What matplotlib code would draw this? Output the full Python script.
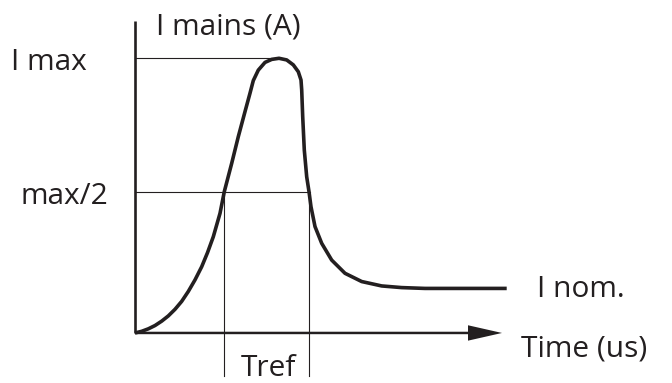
import matplotlib
matplotlib.use("Agg")
import matplotlib.pyplot as plt

# inrush current curve (time in arbitrary units, current relative to I max)
time_us = [0.0, 0.067, 0.133, 0.2, 0.267, 0.333, 0.4, 0.467, 0.533, 0.6,
           0.667, 0.725, 0.783, 0.85, 0.893, 0.967, 1.033, 1.1, 1.15, 1.183,
           1.233, 1.3, 1.367, 1.44, 1.517, 1.583, 1.633, 1.66, 1.667, 1.677,
           1.693, 1.717, 1.74, 1.76, 1.8, 1.867, 1.967, 2.1, 2.267, 2.467,
           2.667, 2.9, 3.717]
i_mains = [0.0, 0.006, 0.015, 0.027, 0.043, 0.062, 0.086, 0.115, 0.151, 0.193,
           0.241, 0.292, 0.350, 0.435, 0.514, 0.617, 0.714, 0.805, 0.872, 0.918,
           0.956, 0.984, 0.995, 0.999, 0.993, 0.975, 0.950, 0.920, 0.884, 0.787,
           0.665, 0.568, 0.514, 0.459, 0.387, 0.326, 0.265, 0.217, 0.187, 0.171,
           0.165, 0.162, 0.162]

i_max = 1.0
i_half = 0.514
t_half_rise = 0.886
t_half_fall = 1.743
t_peak = 1.44

ink = '#231f20'
font = 'Open Sans'

fig = plt.figure(figsize=(6.72, 3.83), dpi=100)
ax = fig.add_axes([0, 0, 1, 1])
ax.set_xlim(-1.35, 5.37)
ax.set_ylim(-0.182, 1.211)
ax.axis('off')

# axes of the sketch
ax.plot([0, 0], [0, 1.135], color=ink, lw=1.9, solid_capstyle='butt')
ax.arrow(0, 0, 3.67, 0, width=0.009, head_width=0.056, head_length=0.34,
         length_includes_head=True, color=ink, lw=0)

# reference lines
ax.plot([0, t_peak], [i_max, i_max], color=ink, lw=0.8)
ax.plot([0, t_half_fall + 0.01], [i_half, i_half], color=ink, lw=0.8)
ax.plot([t_half_rise, t_half_rise], [i_half, -0.158], color=ink, lw=0.8)
ax.plot([t_half_fall, t_half_fall], [i_half, -0.158], color=ink, lw=0.8)

# current curve
ax.plot(time_us, i_mains, color=ink, lw=2.6, solid_capstyle='butt', solid_joinstyle='round')

kw = dict(fontsize=21.5, family=font, color=ink, ha='left', va='baseline')
ax.text(-1.24, 0.956, 'I max', **kw)
ax.text(-1.15, 0.469, 'max/2', **kw)
ax.text(0.21, 1.084, 'I mains (A)', **kw)
ax.text(1.06, -0.156, 'Tref', **kw)
ax.text(4.02, 0.132, 'I nom.', **kw)
ax.text(3.86, -0.086, 'Time (us)', **kw)

fig.savefig('out.png', dpi=100, facecolor='white')
